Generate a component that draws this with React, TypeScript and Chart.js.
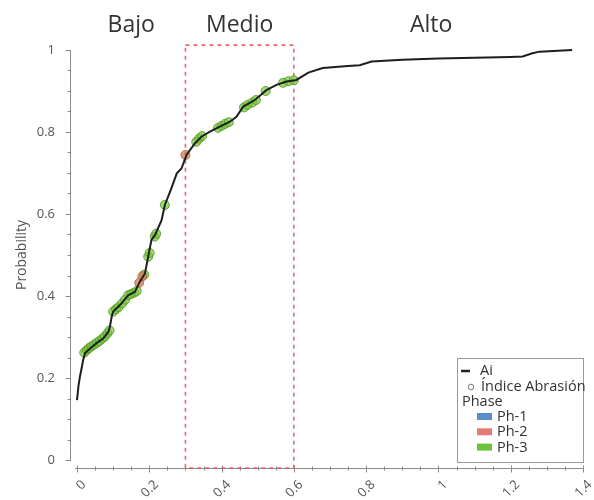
import React, { useEffect, useRef } from "react";
import { Chart, registerables } from "chart.js";

Chart.register(...registerables);

// Empirical CDF of the abrasion index (line "Ai")
const aiX = [0.0, 0.004, 0.008, 0.013, 0.017, 0.022, 0.036, 0.054, 0.073, 0.087, 0.091, 0.096, 0.1, 0.119, 0.142, 0.16, 0.174, 0.188, 0.197, 0.206, 0.216, 0.234, 0.243, 0.26, 0.276, 0.289, 0.303, 0.326, 0.345, 0.368, 0.395, 0.423, 0.441, 0.46, 0.492, 0.524, 0.552, 0.58, 0.607, 0.64, 0.68, 0.75, 0.782, 0.815, 0.9, 1.0, 1.1, 1.2, 1.233, 1.26, 1.28, 1.37];
const aiP = [0.146, 0.18, 0.203, 0.225, 0.244, 0.26, 0.272, 0.285, 0.297, 0.313, 0.325, 0.35, 0.362, 0.378, 0.402, 0.41, 0.435, 0.455, 0.496, 0.537, 0.549, 0.585, 0.622, 0.66, 0.699, 0.711, 0.744, 0.772, 0.789, 0.801, 0.813, 0.825, 0.837, 0.862, 0.878, 0.902, 0.915, 0.923, 0.927, 0.945, 0.956, 0.961, 0.963, 0.972, 0.976, 0.979, 0.981, 0.983, 0.984, 0.992, 0.996, 1.0];

// Índice Abrasión samples by phase
const ph1X: number[] = [];
const ph1P: number[] = [];
const ph2X = [0.172, 0.181, 0.3];
const ph2P = [0.432, 0.448, 0.744];
const ph3X = [0.02, 0.027, 0.033, 0.04, 0.047, 0.055, 0.062, 0.07, 0.077, 0.084, 0.09, 0.1, 0.108, 0.115, 0.125, 0.133, 0.142, 0.15, 0.158, 0.165, 0.186, 0.197, 0.201, 0.215, 0.219, 0.243, 0.33, 0.338, 0.346, 0.39, 0.4, 0.41, 0.42, 0.462, 0.472, 0.485, 0.495, 0.522, 0.57, 0.585, 0.6];
const ph3P = [0.262, 0.268, 0.273, 0.277, 0.281, 0.286, 0.29, 0.296, 0.301, 0.309, 0.316, 0.362, 0.368, 0.373, 0.382, 0.391, 0.402, 0.405, 0.408, 0.412, 0.452, 0.496, 0.505, 0.545, 0.552, 0.622, 0.776, 0.784, 0.79, 0.81, 0.815, 0.82, 0.824, 0.86, 0.866, 0.872, 0.878, 0.9, 0.92, 0.924, 0.926];

const xTicks = [0, 0.2, 0.4, 0.6, 0.8, 1, 1.2, 1.4];
const yTicks = [0, 0.2, 0.4, 0.6, 0.8, 1];
const zoneNames = ["Bajo", "Medio", "Alto"];
const zoneCenters = [0.15, 0.45, 0.98];
const medioRange = [0.3, 0.6];
const phaseNames = ["Ph-1", "Ph-2", "Ph-3"];
const phaseColors = ["#5b8ec9", "#e47a74", "#6cc23a"];

const pts = (xs: number[], ys: number[]) => xs.map((x, i) => ({ x, y: ys[i] }));

const FONT = "'Open Sans', 'Noto Sans', sans-serif";

const decorPlugin = {
  id: "decor",
  beforeDatasetsDraw(chart: any) {
    const { ctx, chartArea, scales } = chart;
    const xs = scales.x;
    const ys = scales.y;
    ctx.save();
    // axes
    ctx.strokeStyle = "#8a8a8a";
    ctx.lineWidth = 1;
    const axY = chartArea.bottom + 0.5;
    ctx.beginPath();
    ctx.moveTo(xs.getPixelForValue(0) - 2, axY);
    ctx.lineTo(xs.getPixelForValue(1.4), axY);
    ctx.stroke();
    for (let v = 0; v <= 1.4001; v += 0.05) {
      const px = Math.round(xs.getPixelForValue(v)) + 0.5;
      const major = Math.abs(v / 0.2 - Math.round(v / 0.2)) < 1e-6;
      ctx.beginPath();
      ctx.moveTo(px, axY - (major ? 3 : 2));
      ctx.lineTo(px, axY + (major ? 4 : 2));
      ctx.stroke();
    }
    const axX = chartArea.left + 0.5;
    ctx.beginPath();
    ctx.moveTo(axX, ys.getPixelForValue(0) + 1);
    ctx.lineTo(axX, ys.getPixelForValue(1));
    ctx.stroke();
    for (let v = 0; v <= 1.0001; v += 0.05) {
      const py = Math.round(ys.getPixelForValue(v)) + 0.5;
      const major = Math.abs(v / 0.2 - Math.round(v / 0.2)) < 1e-6;
      ctx.beginPath();
      ctx.moveTo(axX - (major ? 5 : 3), py);
      ctx.lineTo(axX, py);
      ctx.stroke();
    }
    // dashed rectangle for Medio
    ctx.strokeStyle = "rgba(232,80,80,0.85)";
    ctx.lineWidth = 1.6;
    ctx.setLineDash([4, 4]);
    const rx0 = xs.getPixelForValue(medioRange[0]);
    const rx1 = xs.getPixelForValue(medioRange[1]);
    const ry0 = ys.getPixelForValue(1.012);
    const ry1 = chartArea.bottom;
    ctx.strokeRect(rx0, ry0, rx1 - rx0, ry1 - ry0);
    ctx.setLineDash([]);
    // zone labels
    ctx.fillStyle = "#333";
    ctx.font = `23px ${FONT}`;
    ctx.textAlign = "center";
    ctx.textBaseline = "alphabetic";
    zoneNames.forEach((n, i) => {
      ctx.fillText(n, xs.getPixelForValue(zoneCenters[i]), 32);
    });
    ctx.restore();
  },
  afterDatasetsDraw(chart: any) {
    const { ctx, chartArea } = chart;
    ctx.save();
    const bx1 = chartArea.right;
    const by1 = chartArea.bottom - 6;
    const bx0 = bx1 - 126;
    const by0 = by1 - 104;
    ctx.fillStyle = "rgba(255,255,255,0.9)";
    ctx.fillRect(bx0, by0, bx1 - bx0, by1 - by0);
    ctx.strokeStyle = "#9a9a9a";
    ctx.lineWidth = 1;
    ctx.strokeRect(bx0 + 0.5, by0 + 0.5, bx1 - bx0, by1 - by0);
    ctx.font = `14.5px ${FONT}`;
    ctx.textBaseline = "middle";
    ctx.textAlign = "left";
    // Ai
    let y = by0 + 13;
    ctx.strokeStyle = "#222";
    ctx.lineWidth = 2.5;
    ctx.beginPath();
    ctx.moveTo(bx0 + 4, y);
    ctx.lineTo(bx0 + 13, y);
    ctx.stroke();
    ctx.fillStyle = "#333";
    ctx.fillText("Ai", bx0 + 23, y);
    // Índice Abrasión
    y = by0 + 29;
    ctx.strokeStyle = "#777";
    ctx.lineWidth = 1;
    ctx.beginPath();
    ctx.arc(bx0 + 14, y, 2.8, 0, Math.PI * 2);
    ctx.stroke();
    ctx.fillText("Índice Abrasión", bx0 + 24, y);
    // Phase
    y = by0 + 44;
    ctx.fillText("Phase", bx0 + 5, y);
    phaseNames.forEach((n, i) => {
      const yy = by0 + 59 + i * 15.3;
      ctx.fillStyle = phaseColors[i];
      ctx.fillRect(bx0 + 20, yy - 4, 15, 7);
      ctx.fillStyle = "#333";
      ctx.fillText(n, bx0 + 40, yy);
    });
    ctx.restore();
  },
};

export default function App() {
  const ref = useRef<HTMLCanvasElement>(null);
  useEffect(() => {
    document.body.style.margin = "0";
    const markerStyle = (c: string, b: string) => ({
      showLine: false,
      pointRadius: 4.5,
      pointHoverRadius: 4.5,
      pointBackgroundColor: c,
      pointBorderColor: b,
      pointBorderWidth: 1,
      order: 1,
    });
    const chart = new Chart(ref.current!, {
      type: "scatter",
      data: {
        datasets: [
          {
            label: "Ai",
            data: pts(aiX, aiP),
            showLine: true,
            borderColor: "#1e1e1e",
            borderWidth: 2,
            pointRadius: 0,
            tension: 0,
            order: 0,
          } as any,
          { label: "Ph-1", data: pts(ph1X, ph1P), ...markerStyle("rgba(91,142,201,0.7)", "rgba(60,100,160,0.8)") },
          { label: "Ph-2", data: pts(ph2X, ph2P), ...markerStyle("rgba(214,120,90,0.75)", "rgba(150,110,50,0.8)") },
          { label: "Ph-3", data: pts(ph3X, ph3P), ...markerStyle("rgba(120,200,60,0.7)", "rgba(80,150,35,0.85)") },
        ],
      },
      options: {
        responsive: false,
        animation: false,
        layout: { padding: { left: 0, right: 11, top: 42, bottom: 0 } },
        plugins: { legend: { display: false }, tooltip: { enabled: false } },
        scales: {
          x: {
            type: "linear",
            min: -0.0194,
            max: 1.4,
            afterFit: (s: any) => {
              s.height = 32;
              s.paddingLeft = 0;
              s.paddingRight = 0;
            },
            afterBuildTicks: (s: any) => { s.ticks = xTicks.map((v) => ({ value: v })); },
            grid: { display: false, drawTicks: false },
            border: { display: false },
            ticks: {
              minRotation: 45,
              maxRotation: 45,
              padding: 9,
              labelOffset: 7,
              color: "#555",
              font: { family: FONT, size: 13 },
              callback: (v: any) => String(Math.round(v * 10) / 10),
            },
          },
          y: {
            type: "linear",
            min: -0.0195,
            max: 1.0195,
            afterFit: (s: any) => {
              s.width = 70;
              s.paddingTop = 0;
              s.paddingBottom = 0;
            },
            afterBuildTicks: (s: any) => { s.ticks = yTicks.map((v) => ({ value: v })); },
            grid: { display: false, drawTicks: false },
            border: { display: false },
            title: {
              display: true,
              text: "Probability",
              color: "#555",
              font: { family: FONT, size: 14 },
              padding: { top: 14, bottom: 0 },
            },
            ticks: {
              padding: 15,
              color: "#555",
              font: { family: FONT, size: 13 },
              callback: (v: any) => String(Math.round(v * 10) / 10),
            },
          },
        },
      },
      plugins: [decorPlugin],
    });
    return () => chart.destroy();
  }, []);
  return (
    <canvas
      ref={ref}
      width={594}
      height={500}
      style={{ position: "absolute", left: 0, top: 0, display: "block" }}
    />
  );
}
